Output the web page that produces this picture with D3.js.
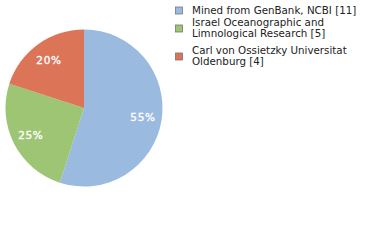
<!DOCTYPE html>
<html>
<head>
<meta charset="utf-8">
<script src="https://cdn.jsdelivr.net/npm/d3@7"></script>
<style>
  body { margin: 0; background: #fff; }
  svg { display: block; }
</style>
</head>
<body>
<script>
// dati del grafico
const categorie = [
    ["Mined from GenBank, NCBI [11]"],
    ["Israel Oceanographic and", "Limnological Research [5]"],
    ["Carl von Ossietzky Universitat", "Oldenburg [4]"]
];
const valori = [11, 5, 4];
const etichette = ["55%", "25%", "20%"];
const colori = ["#9bbae0", "#9dc574", "#dc7457"];

const grafico = { larghezza: 380, altezza: 240, cx: 84, cy: 108, raggio: 78.5 };

let svg = d3.select("body")
    .append("svg")
    .attr("width", grafico.larghezza)
    .attr("height", grafico.altezza);

let torta = d3.pie().sort(null).value(function (d) { return d; });
let arco = d3.arc().innerRadius(0).outerRadius(grafico.raggio);
let arcoEtichette = d3.arc().innerRadius(grafico.raggio * 0.76).outerRadius(grafico.raggio * 0.76);

let gTorta = svg.append("g")
    .attr("transform", `translate(${grafico.cx},${grafico.cy})`);

let fette = torta(valori);

gTorta.selectAll("path")
    .data(fette)
    .enter()
    .append("path")
    .attr("d", arco)
    .attr("fill", function (d, i) { return colori[i]; });

// percentuali sulle fette
gTorta.selectAll("text")
    .data(fette)
    .enter()
    .append("text")
    .attr("transform", function (d) { return `translate(${arcoEtichette.centroid(d)})`; })
    .attr("text-anchor", "middle")
    .attr("dy", "0.38em")
    .attr("fill", "#fff")
    .attr("stroke", "#fff")
    .attr("stroke-width", 0.35)
    .attr("font-family", "DejaVu Sans")
    .attr("font-size", "10.5px")
    .attr("letter-spacing", "0.6px")
    .text(function (d, i) { return etichette[i]; });

// legenda
const posY = [10, 28, 56];
let legenda = svg.append("g");

categorie.forEach(function (righe, i) {
    let yc = posY[i];
    legenda.append("rect")
        .attr("x", 175.5)
        .attr("y", yc - 3)
        .attr("width", 7)
        .attr("height", 7)
        .attr("fill", colori[i])
        .attr("stroke", "#777")
        .attr("stroke-width", 0.8);
    let partenza = yc - (righe.length - 1) * 5.5;
    righe.forEach(function (r, j) {
        legenda.append("text")
            .attr("x", 192)
            .attr("y", partenza + j * 11)
            .attr("dy", "0.35em")
            .attr("fill", "#222")
            .attr("font-family", "DejaVu Sans")
            .attr("font-size", "10.3px")
            .text(r);
    });
});
</script>
</body>
</html>
